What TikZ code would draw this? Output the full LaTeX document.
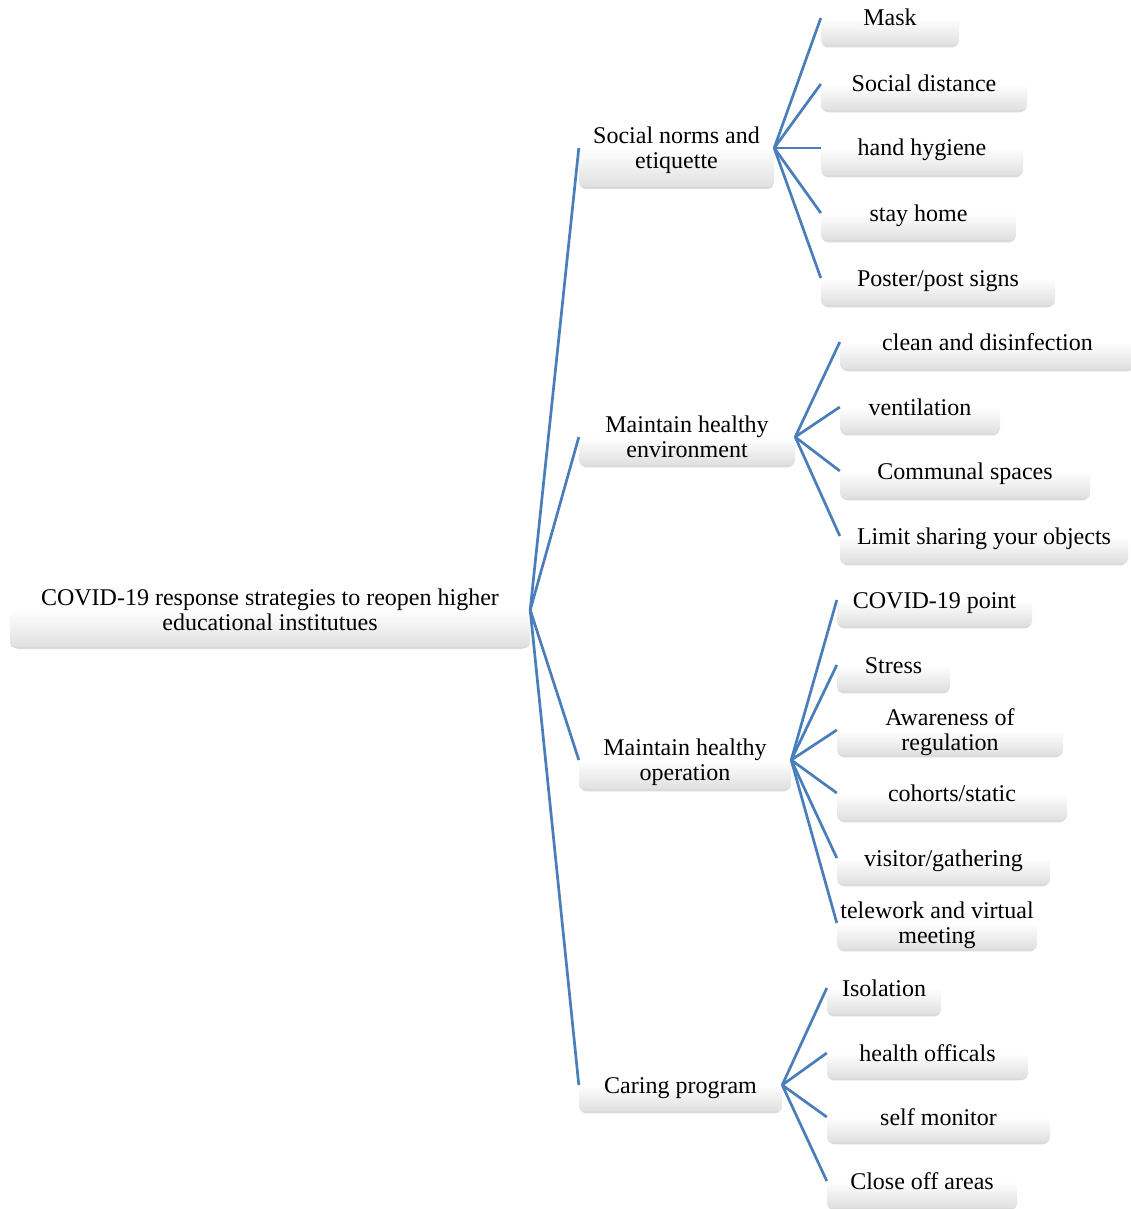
\documentclass[tikz,border=0pt]{standalone}
\usepackage{fontspec}
\setmainfont{Liberation Serif}
\usetikzlibrary{shadows}
\definecolor{linkblue}{RGB}{74,126,187}
\pgfdeclareverticalshading{halfbox}{100bp}{color(0bp)=(black!18); color(25bp)=(black!18); color(26.5bp)=(black!12); color(38bp)=(black!6); color(50bp)=(white); color(100bp)=(white)}
\newsavebox\lblbox
\newcommand\lbl[1]{\sbox\lblbox{\begin{tabular}[t]{@{}c@{}}#1\end{tabular}}\ht\lblbox=16pt\relax\dp\lblbox=\dimexpr\dp\lblbox-7.5pt\relax\usebox\lblbox}
\tikzset{
  hbox/.style={rectangle, rounded corners=5pt, shading=halfbox, inner sep=0pt,
    drop shadow={shadow scale=0.985, shadow xshift=0pt, shadow yshift=-1.8pt, opacity=0.3, fill=black!45},
    font=\fontsize{24}{25}\selectfont},
  link/.style={draw=linkblue, line width=2.7pt}
}
\begin{document}
\begin{tikzpicture}[x=1pt, y=-1pt]
\fill[white] (0,0) rectangle (1130,1209);
\useasboundingbox (0,0) rectangle (1130,1209);
% root
\node[hbox, minimum width=520pt, minimum height=76pt] (root) at (270,610) {\lbl{COVID-19 response strategies to reopen higher\\educational institutues}};
% level 1
\node[hbox, minimum width=195pt, minimum height=80pt] (soc) at (676.5,148) {\lbl{Social norms and\\etiquette}};
\node[hbox, minimum width=216pt, minimum height=58pt] (env) at (687,437) {\lbl{Maintain healthy\\environment}};
\node[hbox, minimum width=212pt, minimum height=60pt] (ops) at (685,760) {\lbl{Maintain healthy\\operation}};
\node[hbox, minimum width=203pt, minimum height=54pt] (care) at (680.5,1085) {\lbl{Caring program}};
% social norms children
\node[hbox, minimum width=138pt, minimum height=56pt] (mask) at (890,18) {\lbl{Mask}};
\node[hbox, minimum width=206pt, minimum height=54pt] (sdist) at (924,84) {\lbl{Social distance}};
\node[hbox, minimum width=202pt, minimum height=56pt] (hand) at (922,148) {\lbl{hand hygiene}};
\node[hbox, minimum width=195pt, minimum height=56pt] (stay) at (918.5,213) {\lbl{stay home}};
\node[hbox, minimum width=234pt, minimum height=56pt] (poster) at (938,278) {\lbl{Poster/post signs}};
% environment children
\node[hbox, minimum width=295pt, minimum height=56pt] (clean) at (987.5,342) {\lbl{clean and disinfection}};
\node[hbox, minimum width=160pt, minimum height=54pt] (vent) at (920,407) {\lbl{ventilation}};
\node[hbox, minimum width=250pt, minimum height=56pt] (comm) at (965,471) {\lbl{Communal spaces}};
\node[hbox, minimum width=288pt, minimum height=56pt] (limit) at (984,536) {\lbl{Limit sharing your objects}};
% operation children
\node[hbox, minimum width=195pt, minimum height=54pt] (covid) at (934.5,600) {\lbl{COVID-19 point}};
\node[hbox, minimum width=113pt, minimum height=54pt] (stress) at (893.5,665) {\lbl{Stress}};
\node[hbox, minimum width=226pt, minimum height=52pt] (aware) at (950,730) {\lbl{Awareness of\\regulation}};
\node[hbox, minimum width=230pt, minimum height=56pt] (cohort) at (952,793) {\lbl{cohorts/static}};
\node[hbox, minimum width=213pt, minimum height=54pt] (visit) at (943.5,858) {\lbl{visitor/gathering}};
\node[hbox, minimum width=200pt, minimum height=54pt] (tele) at (937,923) {\lbl{telework and virtual\\meeting}};
% caring children
\node[hbox, minimum width=114pt, minimum height=54pt] (iso) at (884,988) {\lbl{Isolation}};
\node[hbox, minimum width=201pt, minimum height=52pt] (health) at (927.5,1053) {\lbl{health officals}};
\node[hbox, minimum width=223pt, minimum height=52pt] (self) at (938.5,1117) {\lbl{self monitor}};
\node[hbox, minimum width=190pt, minimum height=56pt] (close) at (922,1181) {\lbl{Close off areas}};
% connectors
\foreach \c in {soc,env,ops,care} \draw[link] (root.east) -- (\c.west);
\foreach \c in {mask,sdist,hand,stay,poster} \draw[link] (soc.east) -- (\c.west);
\foreach \c in {clean,vent,comm,limit} \draw[link] (env.east) -- (\c.west);
\foreach \c in {covid,stress,aware,cohort,visit,tele} \draw[link] (ops.east) -- (\c.west);
\foreach \c in {iso,health,self,close} \draw[link] (care.east) -- (\c.west);
\end{tikzpicture}
\end{document}
